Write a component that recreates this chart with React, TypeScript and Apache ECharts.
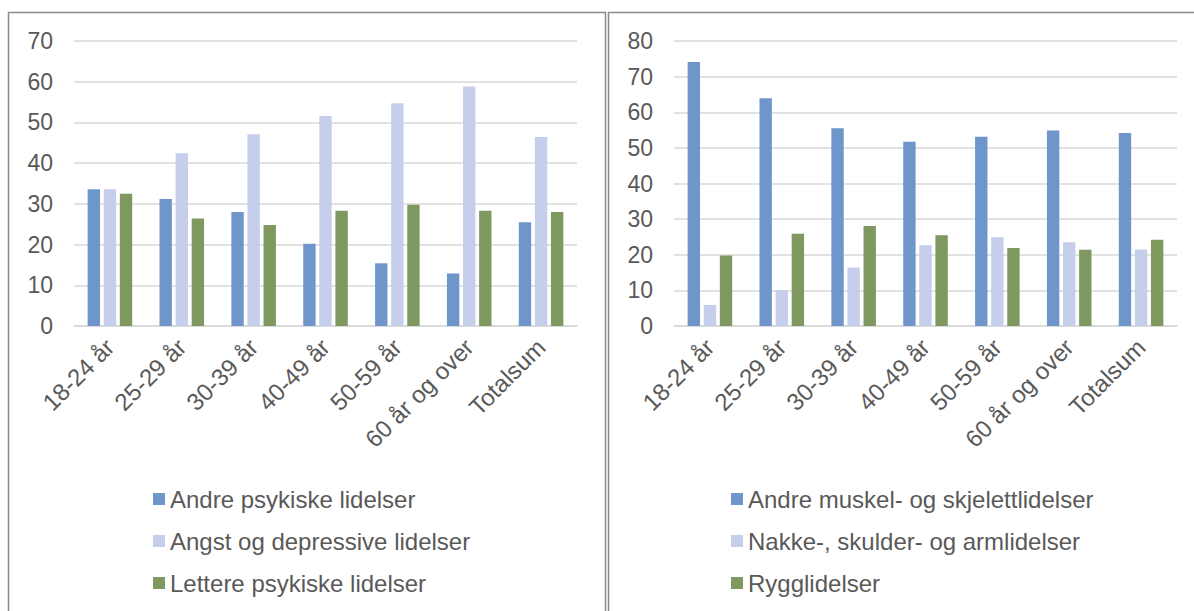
import React, { useEffect, useRef } from "react";
import * as echarts from "echarts";

const categories = ["18-24 år", "25-29 år", "30-39 år", "40-49 år", "50-59 år", "60 år og over", "Totalsum"];

const leftNames = ["Andre psykiske lidelser", "Angst og depressive lidelser", "Lettere psykiske lidelser"];
const leftAndre = [33.6, 31.2, 28.0, 20.2, 15.4, 12.9, 25.5];
const leftAngst = [33.6, 42.4, 47.1, 51.6, 54.7, 58.8, 46.4];
const leftLettere = [32.5, 26.4, 24.8, 28.3, 29.8, 28.3, 28.0];

const rightNames = ["Andre muskel- og skjelettlidelser", "Nakke-, skulder- og armlidelser", "Rygglidelser"];
const rightAndre = [74.1, 63.9, 55.5, 51.7, 53.1, 54.9, 54.2];
const rightNakke = [5.9, 10.1, 16.4, 22.7, 24.9, 23.5, 21.5];
const rightRygg = [19.8, 25.9, 28.1, 25.5, 21.9, 21.4, 24.2];

const colors = ["#6F96CB", "#C5CEEA", "#7F985F"];
const FONT = "'Liberation Sans', Arial, sans-serif";
const TXT = "#595959";

export default function App() {
  const ref = useRef<HTMLDivElement>(null);
  useEffect(() => {
    if (!ref.current) return;
    const chart = echarts.init(ref.current, null, { renderer: "svg" });

    const xAxisBase = (gridIndex: number) => ({
      type: "category",
      gridIndex,
      data: categories,
      axisLine: { show: true, lineStyle: { color: "#D9D9D9", width: 1.5 } },
      axisTick: { show: false },
      axisLabel: { rotate: 45, fontSize: 24, color: TXT, fontFamily: FONT, margin: 17, interval: 0 },
    });
    const yAxisBase = (gridIndex: number, max: number) => ({
      type: "value",
      gridIndex,
      min: 0,
      max,
      interval: 10,
      axisLine: { show: false },
      axisTick: { show: false },
      splitLine: { lineStyle: { color: "#D9D9D9", width: 1.5 } },
      axisLabel: { fontSize: 23, color: TXT, fontFamily: FONT, margin: 21 },
    });
    const bar = (name: string, data: number[], idx: number, color: string) => ({
      type: "bar",
      name,
      data,
      xAxisIndex: idx,
      yAxisIndex: idx,
      barCategoryGap: "38%",
      barGap: "30%",
      itemStyle: { color },
    });
    const legendBase = (left: number, names: string[]) => ({
      orient: "vertical",
      left,
      top: 486,
      padding: 0,
      data: names,
      icon: "rect",
      itemWidth: 12,
      itemHeight: 12,
      itemGap: 16,
      textStyle: { fontSize: 24, color: TXT, fontFamily: FONT, lineHeight: 26 },
    });

    chart.setOption({
      animation: false,
      grid: [
        { left: 74, right: 1194 - 577, top: 41, bottom: 611 - 326 },
        { left: 674, right: 1194 - 1177, top: 41, bottom: 611 - 326 },
      ],
      xAxis: [xAxisBase(0), xAxisBase(1)],
      yAxis: [yAxisBase(0, 70), yAxisBase(1, 80)],
      legend: [legendBase(153, leftNames), legendBase(731, rightNames)],
      series: [
        bar(leftNames[0], leftAndre, 0, colors[0]),
        bar(leftNames[1], leftAngst, 0, colors[1]),
        bar(leftNames[2], leftLettere, 0, colors[2]),
        bar(rightNames[0], rightAndre, 1, colors[0]),
        bar(rightNames[1], rightNakke, 1, colors[1]),
        bar(rightNames[2], rightRygg, 1, colors[2]),
      ],
      graphic: [
        {
          type: "rect",
          shape: { x: 8.5, y: 12.5, width: 597, height: 700 },
          style: { fill: "none", stroke: "#8A8A8A", lineWidth: 1.5 },
          silent: true,
        },
        {
          type: "rect",
          shape: { x: 608.5, y: 12.5, width: 700, height: 700 },
          style: { fill: "none", stroke: "#8A8A8A", lineWidth: 1.5 },
          silent: true,
        },
      ],
    });
    return () => chart.dispose();
  }, []);
  return (
    <div
      ref={ref}
      style={{ position: "absolute", left: 0, top: 0, width: 1194, height: 611, background: "#fff" }}
    />
  );
}
